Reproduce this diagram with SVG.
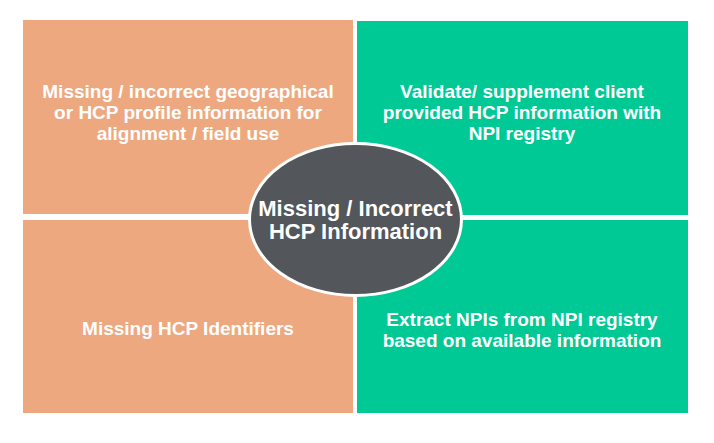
<svg xmlns="http://www.w3.org/2000/svg" width="714" height="443" viewBox="0 0 714 443">
  <style>
    .orange { fill: #eea880; }
    .green { fill: #00c995; }
    .label { font-family: "Liberation Sans", Arial, sans-serif; font-weight: bold; font-size: 19px; fill: #ffffff; text-anchor: middle; }
    .hub { font-family: "Liberation Sans", Arial, sans-serif; font-weight: bold; font-size: 22px; fill: #ffffff; text-anchor: middle; }
  </style>
  <rect width="714" height="443" fill="#ffffff"/>
  <g id="problem-profile">
    <rect class="orange" x="23" y="20" width="330" height="194"/>
    <text class="label" x="188" y="98">Missing / incorrect geographical</text>
    <text class="label" x="188" y="119">or HCP profile information for</text>
    <text class="label" x="188" y="140">alignment / field use</text>
  </g>
  <g id="solution-validate">
    <rect class="green" x="357" y="21" width="331" height="194"/>
    <text class="label" x="522" y="98">Validate/ supplement client</text>
    <text class="label" x="522" y="119">provided HCP information with</text>
    <text class="label" x="522" y="140">NPI registry</text>
  </g>
  <g id="problem-identifiers">
    <rect class="orange" x="23" y="220" width="330" height="193"/>
    <text class="label" x="188" y="335">Missing HCP Identifiers</text>
  </g>
  <g id="solution-extract">
    <rect class="green" x="357" y="220" width="331" height="193"/>
    <text class="label" x="522" y="326">Extract NPIs from NPI registry</text>
    <text class="label" x="522" y="347">based on available information</text>
  </g>
  <g id="hub">
    <ellipse cx="355.5" cy="219.5" rx="106" ry="76" fill="#53565a" stroke="#ffffff" stroke-width="3"/>
    <text class="hub" x="355.5" y="216">Missing / Incorrect</text>
    <text class="hub" x="355.5" y="239">HCP Information</text>
  </g>
  <g id="connectors"></g>
</svg>
